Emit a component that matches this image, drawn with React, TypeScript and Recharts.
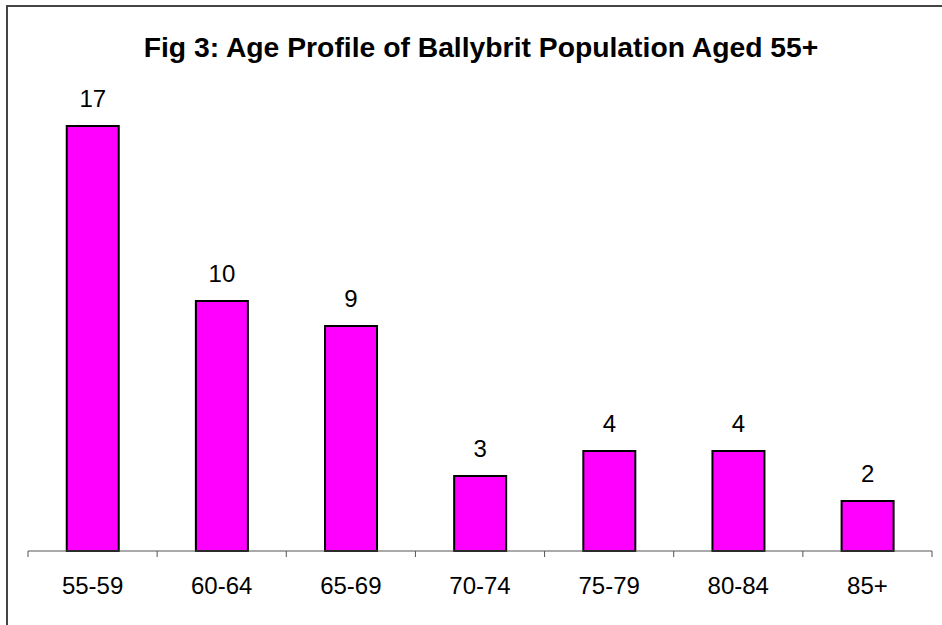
import { BarChart, Bar, XAxis, YAxis, LabelList } from 'recharts'

const ageGroups = ['55-59', '60-64', '65-69', '70-74', '75-79', '80-84', '85+']
const people = [17, 10, 9, 3, 4, 4, 2]
const yDomain: [number, number] = [0, 18]

const data = ageGroups.map((group, i) => ({ group, people: people[i] }))

const WIDTH = 942
const HEIGHT = 625
const MARGIN = { top: 101, right: 10, bottom: 14, left: 28 }
const AXIS_HEIGHT = 60
const BAND = (WIDTH - MARGIN.left - MARGIN.right) / ageGroups.length
const FONT = 'Arial, "Liberation Sans", sans-serif'

function AgeTick(props: any) {
    const { x, y, payload, index } = props
    const half = BAND / 2
    return (
        <g>
            <line x1={x - half} x2={x - half} y1={y} y2={y + 6} stroke="#555" strokeWidth={1} />
            {index === ageGroups.length - 1 && (
                <line x1={x + half} x2={x + half} y1={y} y2={y + 6} stroke="#555" strokeWidth={1} />
            )}
            <text x={x} y={y + 43} textAnchor="middle" fill="#000" fontSize={24} fontFamily={FONT}>
                {payload.value}
            </text>
        </g>
    )
}

export default function App() {
    return (
        <div style={{ position: 'absolute', left: 0, top: 0, width: WIDTH, height: HEIGHT, overflow: 'hidden', background: '#fff' }}>
            <div
                style={{
                    position: 'absolute',
                    left: 6,
                    top: 5,
                    width: 960,
                    height: 700,
                    border: '2px solid #444',
                    boxSizing: 'border-box',
                }}
            />
            <div
                style={{
                    position: 'absolute',
                    left: 10,
                    top: 30,
                    width: WIDTH,
                    textAlign: 'center',
                    fontFamily: FONT,
                    fontWeight: 'bold',
                    fontSize: 28.3,
                    lineHeight: '34px',
                    color: '#000',
                }}
            >
                Fig 3: Age Profile of Ballybrit Population Aged 55+
            </div>
            <div style={{ position: 'absolute', left: 0, top: 0 }}>
                <BarChart width={WIDTH} height={HEIGHT} data={data} margin={MARGIN} barCategoryGap="30%">
                    <XAxis
                        dataKey="group"
                        height={AXIS_HEIGHT}
                        axisLine={{ stroke: '#555', strokeWidth: 1 }}
                        tickLine={false}
                        tickSize={0}
                        tickMargin={0}
                        tick={<AgeTick />}
                        interval={0}
                    />
                    <YAxis hide domain={yDomain} width={0} />
                    <Bar dataKey="people" fill="#FF00FF" stroke="#000" strokeWidth={2} isAnimationActive={false}>
                        <LabelList
                            dataKey="people"
                            position="top"
                            offset={19}
                            fill="#000"
                            fontSize={24}
                            fontFamily={FONT}
                        />
                    </Bar>
                </BarChart>
            </div>
        </div>
    )
}
